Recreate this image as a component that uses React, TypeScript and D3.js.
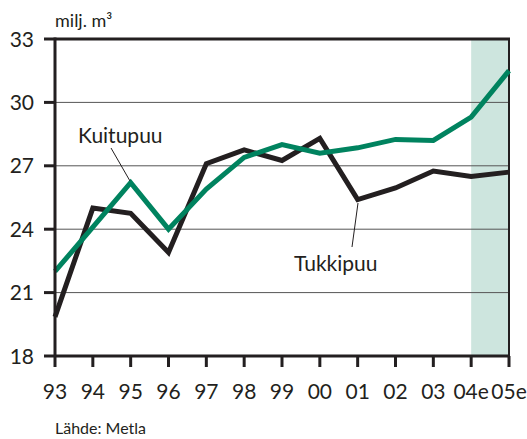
import React from 'react';
import * as d3 from 'd3';

const years = ['93', '94', '95', '96', '97', '98', '99', '00', '01', '02', '03', '04e', '05e'];
const kuitupuu = [22.0, 24.1, 26.2, 24.0, 25.9, 27.4, 28.0, 27.6, 27.85, 28.25, 28.2, 29.3, 31.5];
const tukkipuu = [19.85, 25.0, 24.75, 22.9, 27.1, 27.75, 27.25, 28.3, 25.4, 25.95, 26.75, 26.5, 26.7];
const yTicks = [18, 21, 24, 27, 30, 33];
const forecastYears = ['04e', '05e'];

const width = 527;
const height = 439;
const margin = { top: 39, right: 18, bottom: 83, left: 55 };
const font = 'Lato, "Open Sans", sans-serif';

export default function App() {
  const x = d3.scalePoint<string>().domain(years).range([margin.left, width - margin.right]);
  const y = d3.scaleLinear().domain([18, 33]).range([height - margin.bottom, margin.top]);

  const line = d3.line<number>()
    .x((d, i) => x(years[i])!)
    .y(d => y(d));

  const x0 = margin.left;
  const x1 = width - margin.right;

  return (
    <svg width={width} height={height} style={{ position: 'absolute', left: 0, top: 0 }}>
      <rect
        x={x(forecastYears[0])}
        y={y(33)}
        width={x(forecastYears[1])! - x(forecastYears[0])!}
        height={y(18) - y(33)}
        fill="#cde5de"
      />
      {yTicks.filter(t => t !== 18 && t !== 33).map(t => (
        <line key={t} x1={x0} x2={x1} y1={y(t)} y2={y(t)} stroke="#555" strokeWidth={1} />
      ))}
      <line x1={x0} x2={x1 + 1} y1={y(33)} y2={y(33)} stroke="#231f20" strokeWidth={3} />
      <line x1={x1} x2={x1} y1={y(33)} y2={y(18)} stroke="#231f20" strokeWidth={2} />

      <path d={line(tukkipuu)!} fill="none" stroke="#231f20" strokeWidth={5} strokeLinejoin="miter" />
      <path d={line(kuitupuu)!} fill="none" stroke="#00835f" strokeWidth={5} strokeLinejoin="miter" />

      <line x1={x0} x2={x0} y1={y(33) - 1.5} y2={y(18)} stroke="#231f20" strokeWidth={3} />
      <line x1={x0} x2={x1 + 1} y1={y(18)} y2={y(18)} stroke="#231f20" strokeWidth={3} />

      {yTicks.map(t => (
        <g key={t}>
          <line x1={44} x2={x0} y1={y(t)} y2={y(t)} stroke="#231f20" strokeWidth={3} />
          <text x={34} y={y(t)} dy="0.36em" textAnchor="end" fontFamily={font} fontSize={21} fill="#231f20">{t}</text>
        </g>
      ))}
      {years.map(yr => (
        <g key={yr}>
          <line x1={x(yr)} x2={x(yr)} y1={y(18)} y2={y(18) + 11} stroke="#231f20" strokeWidth={3} />
          <text x={x(yr)} y={399} textAnchor="middle" fontFamily={font} fontSize={21} fill="#231f20">{yr}</text>
        </g>
      ))}

      <text x={x0} y={27} fontFamily={font} fontSize={18} fill="#231f20">milj. m³</text>

      <text x={78} y={143} fontFamily={font} fontSize={21} fill="#231f20">Kuitupuu</text>
      <line x1={111} y1={148} x2={130} y2={181} stroke="#231f20" strokeWidth={1} />
      <text x={294} y={271} fontFamily={font} fontSize={21} fill="#231f20">Tukkipuu</text>
      <line x1={358} y1={203} x2={352} y2={247} stroke="#231f20" strokeWidth={1} />

      <text x={x0} y={434} fontFamily={font} fontSize={16} fill="#231f20">Lähde: Metla</text>
    </svg>
  );
}
